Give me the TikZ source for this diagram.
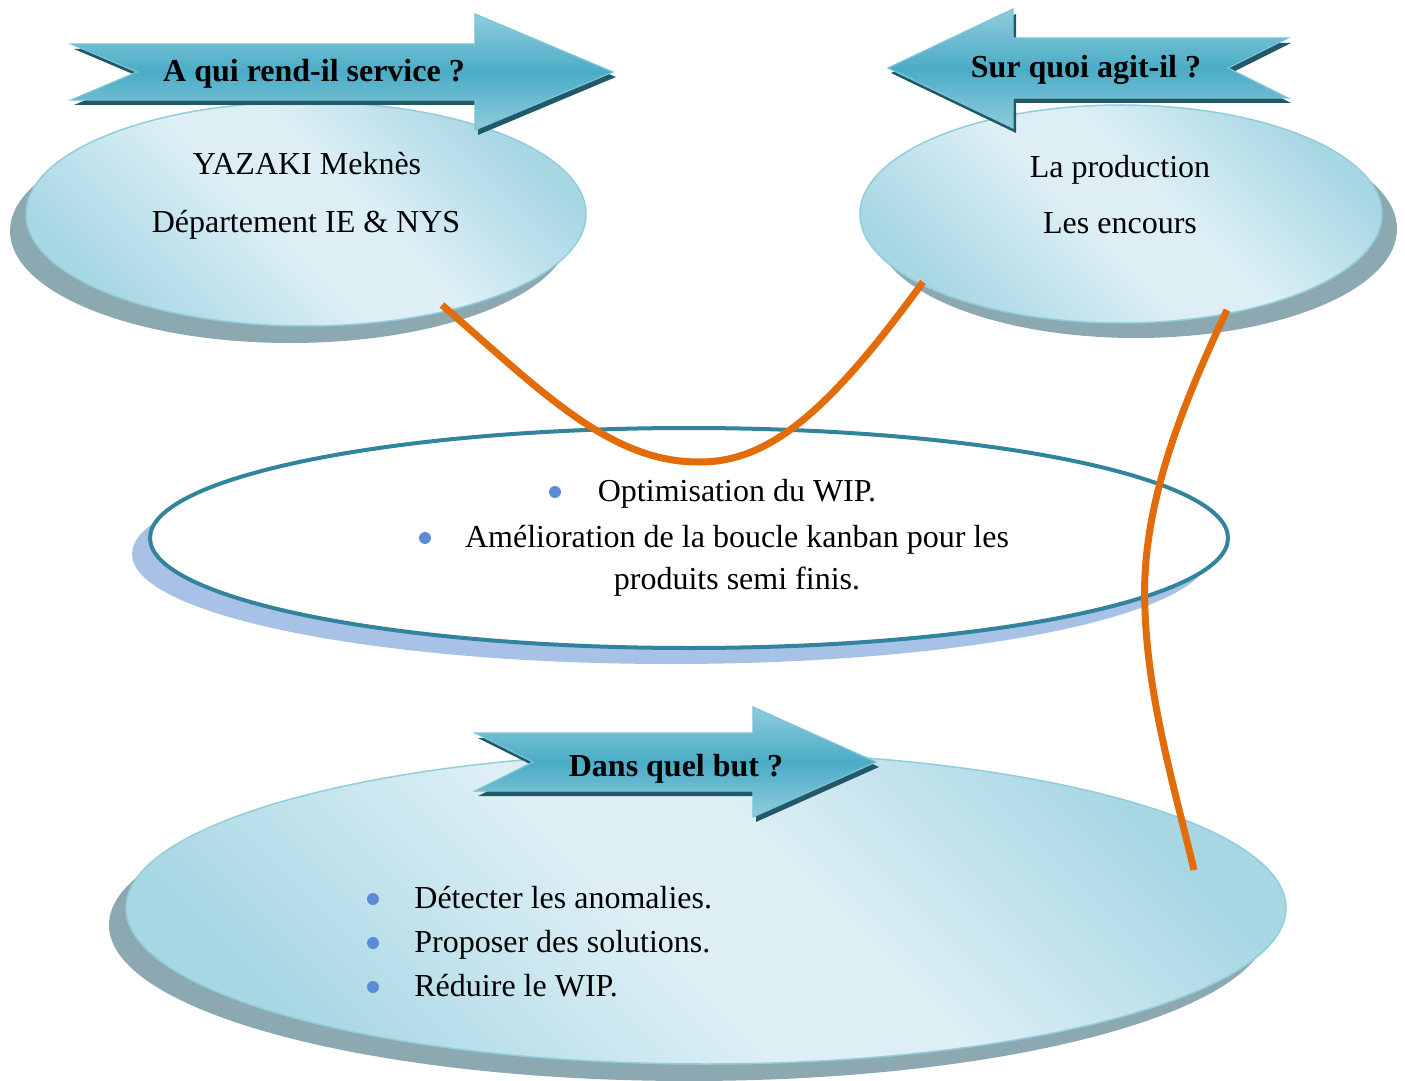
\documentclass[tikz,border=0pt]{standalone}
\usepackage{fontspec}
\setmainfont{Liberation Serif}
\usetikzlibrary{shapes.geometric,shadows}
\definecolor{ellLight}{HTML}{DDEFF5}
\definecolor{ellDark}{HTML}{A8D7E4}
\definecolor{ellEdge}{HTML}{92CDDC}
\definecolor{ellShadow}{HTML}{8CA8B0}
\definecolor{midEdge}{HTML}{31849B}
\definecolor{midShadow}{HTML}{A7C1E7}
\definecolor{arrMid}{HTML}{4BACC6}
\definecolor{arrLight}{HTML}{8FCCDD}
\definecolor{arrEdge}{HTML}{7CC4D7}
\definecolor{arrShadow}{HTML}{215968}
\definecolor{linkOrange}{HTML}{E36C0A}
\definecolor{bulletBlue}{HTML}{5B8DD6}
\pgfdeclarehorizontalshading{ellshade}{100bp}{color(0bp)=(ellDark); color(25bp)=(ellDark); color(46bp)=(ellLight); color(56bp)=(ellLight); color(75bp)=(ellDark); color(100bp)=(ellDark)}
\begin{document}
\begin{tikzpicture}[x=0.5pt,y=-0.5pt,
 bubble/.style={ellipse, draw=ellEdge, line width=0.75pt, shade, shading=ellshade, shading angle=45, inner sep=0pt},
 goal/.style={ellipse, draw=midEdge, line width=2pt, fill=white, inner sep=0pt,
   general shadow={fill=midShadow, shadow xshift=-9pt, shadow yshift=-8pt}},
 banner/.style={top color=arrLight, bottom color=arrLight, middle color=arrMid, draw=arrEdge, line width=0.6pt,
   general shadow={fill=arrShadow, shadow xshift=1.5pt, shadow yshift=-2.5pt}},
 body/.style={font=\fontsize{16}{21}\selectfont, inner sep=0pt, anchor=base},
 title/.style={font=\fontsize{16}{21}\selectfont\bfseries, inner sep=0pt, anchor=base},
 dot/.style={circle, fill=bulletBlue, minimum size=6pt, inner sep=0pt},
 link/.style={draw=linkOrange, line width=3.5pt}
]
\fill[white] (0,0) rectangle (1405,1081);
\useasboundingbox (0,0) rectangle (1405,1081);

% bottom bubble
\node[bubble, minimum width=580pt, minimum height=156pt,
  general shadow={fill=ellShadow, shadow xshift=-8.5pt, shadow yshift=-8.5pt}] (but) at (706,908) {};
% middle ellipse
\node[goal, minimum width=539pt, minimum height=110pt] (obj) at (689,538) {};
% top bubbles
\node[bubble, minimum width=280pt, minimum height=112pt,
  general shadow={fill=ellShadow, shadow xshift=-8pt, shadow yshift=-8.5pt}] (qui) at (306,214) {};
\node[bubble, minimum width=261pt, minimum height=109pt,
  general shadow={fill=ellShadow, shadow xshift=7.5pt, shadow yshift=-7.5pt}] (quoi) at (1121,214) {};

% banners
\path[banner] (71,44) -- (475,44) -- (475,14) -- (613,72) -- (475,130) -- (475,100) -- (71,100) -- (137,72) -- cycle;
\path[banner] (888,68) -- (1013,9) -- (1013,38) -- (1288,38) -- (1228,68) -- (1288,98) -- (1013,98) -- (1013,128) -- cycle;
\path[banner] (475,733) -- (753,733) -- (753,707) -- (876,762) -- (753,817) -- (753,791) -- (475,791) -- (533,762) -- cycle;

\node[title] (h1) at (314,82) {A qui rend-il service ?};
\node[title] (h2) at (1086,78) {Sur quoi agit-il ?};
\node[title] (h3) at (676,776) {Dans quel but ?};

\node[body] (q1) at (307,175) {YAZAKI Meknès};
\node[body] (q2) at (306,233) {Département IE \& NYS};
\node[body] (p1) at (1120,177) {La production};
\node[body] (p2) at (1120,234) {Les encours};

\node[dot] (b1) at (555,492) {};
\node[body] (o1) at (737,501) {Optimisation du WIP.};
\node[dot] (b2) at (425,538) {};
\node[body] (o2) at (737,547) {Amélioration de la boucle kanban pour les};
\node[body] (o3) at (737,589) {produits semi finis.};

\node[dot] (d1) at (373,899) {};
\node[dot] (d2) at (373,943) {};
\node[dot] (d3) at (373,987) {};
\node[body, anchor=base west] (g1) at (414,908) {Détecter les anomalies.};
\node[body, anchor=base west] (g2) at (414,952) {Proposer des solutions.};
\node[body, anchor=base west] (g3) at (414,996) {Réduire le WIP.};

% links
\coordinate (l1a) at (442,305);
\coordinate (l1m) at (700,462);
\coordinate (l1b) at (923,282);
\coordinate (l2a) at (1227,310);
\coordinate (l2m) at (1145,610);
\coordinate (l2b) at (1194,870);
\draw[link] (l1a) .. controls (540,390) and (610,463) .. (l1m) .. controls (770,462) and (830,410) .. (l1b);
\draw[link] (l2a) .. controls (1180,410) and (1140,510) .. (l2m) .. controls (1148,700) and (1175,790) .. (l2b);
\end{tikzpicture}
\end{document}
